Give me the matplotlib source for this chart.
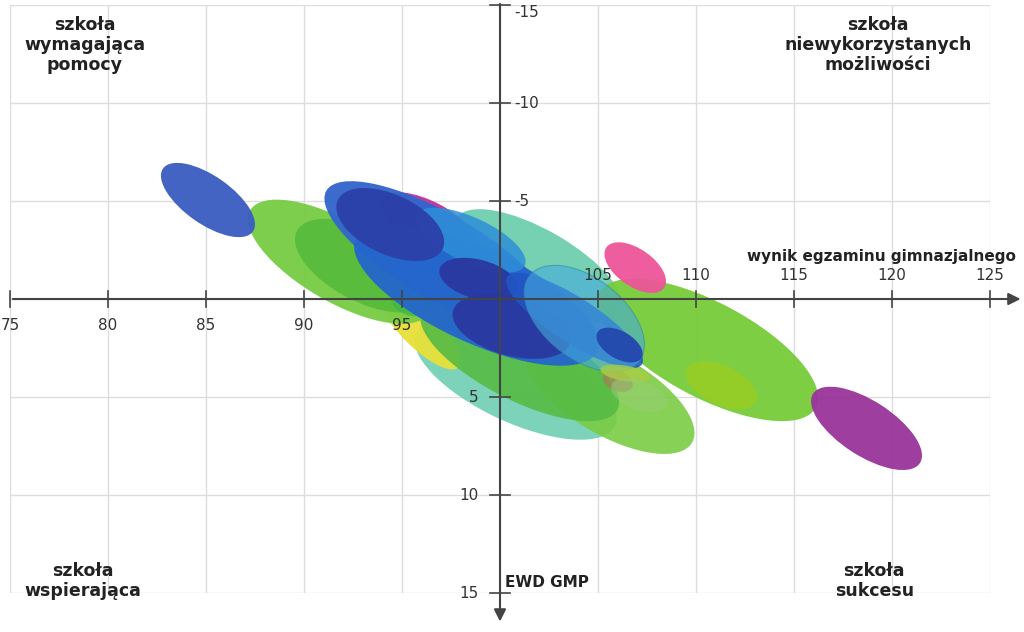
import matplotlib
matplotlib.use("Agg")
import matplotlib.pyplot as plt
from matplotlib.patches import Ellipse

# ---- data (school ellipses: exam score x, EWD y) ----
cx = [100.8, 105.6, 95.9, 101.0, 91.8, 93.0, 95.5, 102.0, 110.6, 111.3,
      96.4, 96.9, 98.8, 98.5, 94.4, 98.9, 100.6, 103.8, 104.3, 106.1,
      106.0, 106.4, 107.1, 118.7, 106.9, 85.1]
cy = [4.1, 4.9, 1.5, 3.1, -1.9, -1.7, -0.05, -1.7, 2.6, 4.4,
      -3.8, -2.2, -0.2, -3.0, -3.8, -1.0, 1.4, 1.1, 1.0, 2.35,
      4.2, 3.8, 4.9, 6.6, -1.6, -5.05]
ew = [11.2, 9.7, 5.6, 11.2, 10.5, 7.6, 2.3, 9.7, 12.5, 3.9,
      5.5, 13.3, 13.6, 6.1, 5.9, 4.1, 6.2, 8.2, 7.1, 2.6,
      1.6, 2.6, 3.0, 6.5, 3.6, 5.6]
eh = [4.35, 4.1, 1.9, 4.1, 4.1, 3.6, 1.8, 3.6, 4.85, 2.0,
      2.3, 4.3, 4.8, 2.3, 3.05, 2.0, 3.0, 2.3, 4.1, 1.4,
      1.0, 0.8, 1.5, 2.8, 1.9, 2.45]
eang = [25, 30, 45, 27, 30, 28, 20, 30, 28, 25,
        28, 30, 25, 25, 25, 15, 15, 33, 38, 30,
        20, 10, 20, 33, 35, 35]

x_ticks = [75, 80, 85, 90, 95, 105, 110, 115, 120, 125]
y_ticks = [-15, -10, -5, 5, 10, 15]
x_label = "wynik egzaminu gimnazjalnego"
y_label = "EWD GMP"
quadrants = {
    "tl": "szkoła\nwymagająca\npomocy",
    "tr": "szkoła\nniewykorzystanych\nmożliwości",
    "bl": "szkoła\nwspierająca",
    "br": "szkoła\nsukcesu",
}

# ---- styles ----
colors = ["#6fcfb3", "#7acc44", "#e8e03a", "#55bb44", "#77cc44", "#55bb3a",
          "#44b844", "#66ccaa", "#77cc3a", "#9acc22",
          "#bb3399", "#3366cc", "#2466cc", "#2e8fd8", "#2b40a8", "#2a38a0",
          "#2a38a0", "#2255c4", "#44aadd", "#2244aa",
          "#998855", "#aacc44", "#99cc77", "#993399", "#ee5599", "#3a5cc0"]
alphas = [0.9, 0.9, 0.95, 0.9, 0.95, 0.9, 0.85, 0.9, 0.95, 0.8,
          0.95, 0.97, 0.95, 0.85, 0.95, 0.95, 0.95, 0.9, 0.6, 0.9,
          0.8, 0.8, 0.5, 0.95, 0.95, 0.95]

fig = plt.figure(figsize=(10.24, 6.32), dpi=100)
ax = fig.add_axes([10 / 1024, 1 - 593 / 632, 980 / 1024, 588 / 632])
ax.set_xlim(75, 125)
ax.set_ylim(15, -15)
for s in ax.spines.values():
    s.set_visible(False)
ax.set_xticks(range(75, 126, 5))
ax.set_yticks(range(-15, 16, 5))
ax.tick_params(length=0, labelbottom=False, labelleft=False)
ax.grid(True, color="#dddddd", lw=1)
ax.set_axisbelow(True)

for i in range(len(cx)):
    e = Ellipse((cx[i], cy[i]), ew[i], eh[i], angle=eang[i],
                facecolor=colors[i], alpha=alphas[i], lw=0, zorder=2)
    if i == 18:
        e.set_edgecolor("#3388aa")
        e.set_linewidth(0.8)
    ax.add_patch(e)

axc = "#444444"
ax.annotate("", xy=(126.7, 0), xytext=(75, 0), annotation_clip=False,
            arrowprops=dict(arrowstyle="-|>", color=axc, lw=1.5, mutation_scale=18),
            zorder=5)
ax.annotate("", xy=(100, 16.6), xytext=(100, -15.2), annotation_clip=False,
            arrowprops=dict(arrowstyle="-|>", color=axc, lw=1.5, mutation_scale=18),
            zorder=5)

for t in x_ticks:
    ax.plot([t, t], [-0.4, 0.4], color=axc, lw=1.2, clip_on=False, zorder=5)
    if t < 100:
        ax.text(t, 1.35, str(t), ha="center", va="center", fontsize=11, color="#333333", zorder=6)
    else:
        ax.text(t, -1.2, str(t), ha="center", va="center", fontsize=11, color="#333333", zorder=6)
for t in y_ticks:
    ax.plot([99.5, 100.5], [t, t], color=axc, lw=1.2, clip_on=False, zorder=5)
    ty = t + 0.4 if t == -15 else t
    if t < 0:
        ax.text(100.75, ty, str(t), ha="left", va="center", fontsize=11, color="#333333", zorder=6)
    else:
        ax.text(98.9, t, str(t), ha="right", va="center", fontsize=11, color="#333333", zorder=6)

ax.text(126.3, -2.15, x_label, ha="right", va="center", fontsize=11,
        fontweight="bold", color="#222222", clip_on=False, zorder=6)
ax.text(100.26, 14.45, y_label, ha="left", va="center", fontsize=11,
        fontweight="bold", color="#222222", zorder=6)

qkw = dict(ha="center", va="center", multialignment="center", fontsize=12.5,
           fontweight="bold", color="#222222", linespacing=1.15, zorder=6)
ax.text(78.8, -12.95, quadrants["tl"], **qkw)
ax.text(119.3, -12.95, quadrants["tr"], **qkw)
ax.text(78.7, 14.4, quadrants["bl"], **qkw)
ax.text(119.1, 14.4, quadrants["br"], **qkw)

fig.savefig("out.png", dpi=100)
